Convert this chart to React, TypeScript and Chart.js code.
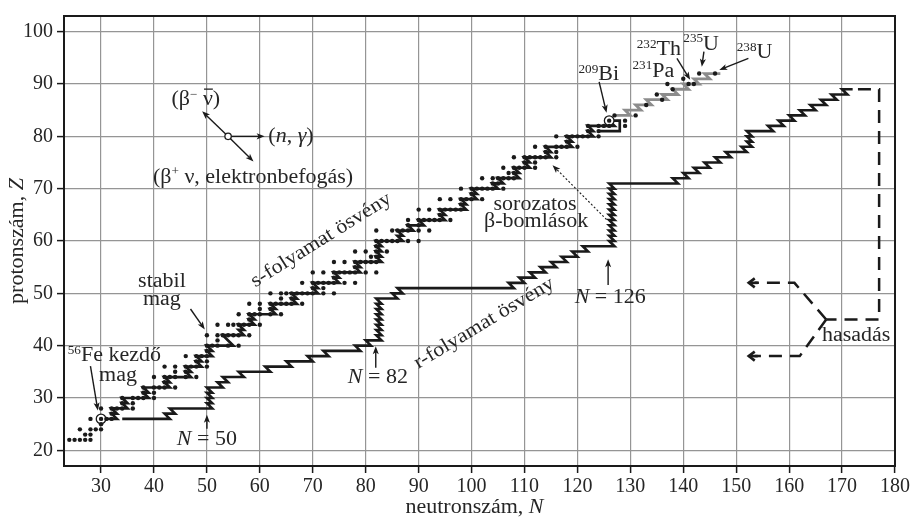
import React, { useEffect, useRef } from "react";
import { Chart, registerables } from "chart.js";
Chart.register(...registerables);

const FONT = '"Liberation Serif", "Times New Roman", serif';
const INK = "#1a1a1a";
const TEXT = "#262626";
const STRETCH = 1.1;

// ---------- axis ticks ----------
const xTickValues = [30, 40, 50, 60, 70, 80, 90, 100, 110, 120, 130, 140, 150, 160, 170, 180];
const yTickValues = [20, 30, 40, 50, 60, 70, 80, 90, 100];

// ---------- stable nuclei: [Z, list of N] ----------
const stableIsotopes: [number, number[]][] = [
  [22, [24, 25, 26, 27, 28]],
  [23, [27, 28]],
  [24, [26, 28, 29, 30]],
  [25, [30]],
  [26, [28, 30, 31, 32]],
  [27, [32]],
  [28, [30, 32, 33, 34, 36]],
  [29, [34, 36]],
  [30, [34, 36, 37, 38, 40]],
  [31, [38, 40]],
  [32, [38, 40, 41, 42, 44]],
  [33, [42]],
  [34, [40, 42, 43, 44, 46, 48]],
  [35, [44, 46]],
  [36, [42, 44, 46, 47, 48, 50]],
  [37, [48, 50]],
  [38, [46, 48, 49, 50]],
  [39, [50]],
  [40, [50, 51, 52, 54, 56]],
  [41, [52]],
  [42, [50, 52, 53, 54, 55, 56, 58]],
  [44, [52, 54, 55, 56, 57, 58, 60]],
  [45, [58]],
  [46, [56, 58, 59, 60, 62, 64]],
  [47, [60, 62]],
  [48, [58, 60, 62, 63, 64, 65, 66, 68]],
  [49, [64, 66]],
  [50, [62, 64, 65, 66, 67, 68, 69, 70, 72, 74]],
  [51, [70, 72]],
  [52, [68, 70, 71, 72, 73, 74, 76, 78]],
  [53, [74]],
  [54, [70, 72, 74, 75, 76, 77, 78, 80, 82]],
  [55, [78]],
  [56, [74, 76, 78, 79, 80, 81, 82]],
  [57, [81, 82]],
  [58, [78, 80, 82, 84]],
  [59, [82]],
  [60, [82, 83, 84, 85, 86, 88, 90]],
  [62, [82, 85, 86, 87, 88, 90, 92]],
  [63, [88, 90]],
  [64, [88, 90, 91, 92, 93, 94, 96]],
  [65, [94]],
  [66, [90, 92, 94, 95, 96, 97, 98]],
  [67, [98]],
  [68, [94, 96, 98, 99, 100, 102]],
  [69, [100]],
  [70, [98, 100, 101, 102, 103, 104, 106]],
  [71, [104, 105]],
  [72, [102, 104, 105, 106, 107, 108]],
  [73, [107, 108]],
  [74, [106, 108, 109, 110, 112]],
  [75, [110, 112]],
  [76, [108, 110, 111, 112, 113, 114, 116]],
  [77, [114, 116]],
  [78, [112, 114, 116, 117, 118, 120]],
  [79, [118]],
  [80, [116, 118, 119, 120, 121, 122, 124]],
  [81, [122, 124]],
  [82, [122, 124, 125, 126]],
  [83, [126]],
];

// heavy nuclei beyond Bi: [N, Z]
const heavyNuclides: [number, number][] = [
  [127, 84], [129, 83], [129, 82], [131, 84], [133, 86], [135, 88], [136, 87],
  [137, 90], [138, 89], [140, 91], [141, 90], [142, 90], [143, 92], [146, 92],
];

// circled nuclei (56Fe, 209Bi): [N, Z]
const markedNuclides: [number, number][] = [[30, 26], [126, 83]];

// s-process path: [Z, N from, N to]
const sPathSegments: [number, number, number][] = [
  [26, 30, 33], [27, 32, 33], [28, 32, 35], [29, 34, 35], [30, 34, 39], [31, 38, 39],
  [32, 38, 43], [33, 42, 43], [34, 42, 47], [35, 46, 47], [36, 46, 49], [37, 48, 49],
  [38, 48, 51], [39, 50, 51], [40, 50, 55], [41, 54, 54], [42, 53, 57], [43, 56, 57],
  [44, 56, 59], [45, 58, 59], [46, 58, 63], [47, 62, 63], [48, 62, 67], [49, 66, 67],
  [50, 66, 71], [51, 70, 71], [52, 70, 75], [53, 74, 75], [54, 74, 79], [55, 78, 79],
  [56, 78, 83], [57, 82, 83], [58, 82, 83], [59, 82, 83], [60, 82, 87], [61, 86, 87],
  [62, 86, 89], [63, 88, 91], [64, 90, 95], [65, 94, 95], [66, 94, 99], [67, 98, 99],
  [68, 98, 101], [69, 100, 101], [70, 100, 105], [71, 104, 106], [72, 105, 109], [73, 108, 109],
  [74, 108, 111], [75, 110, 111], [76, 110, 115], [77, 114, 115], [78, 114, 119], [79, 118, 119],
  [80, 118, 123], [81, 122, 123], [82, 122, 127], [83, 126, 126],
];
// Bi-Pb end cycle: [N, Z]
const sPathLoop: [number, number][] = [[128, 83], [128, 81], [124, 81]];

// r-process path: [N, Z]
const rPath: [number, number][] = [
  [34, 26], [43, 26], [42, 27], [44, 27], [43, 28], [51, 28],
  [50, 29], [51, 29], [50, 30], [51, 30], [50, 31], [51, 31], [50, 32], [53, 32], [52, 33], [54, 33],
  [53, 34], [57, 34], [56, 35], [62, 35], [61, 36], [66, 36], [65, 37], [70, 37], [69, 38], [73, 38],
  [72, 39], [79, 39], [78, 40], [81, 40], [80, 41], [83, 41],
  [82, 42], [83, 42], [82, 43], [83, 43], [82, 44], [83, 44], [82, 45], [83, 45], [82, 46], [83, 46],
  [82, 47], [83, 47], [82, 48], [83, 48], [82, 49],
  [86, 49], [85, 50], [87, 50], [86, 51], [108, 51], [107, 52], [110, 52], [109, 53], [112, 53],
  [111, 54], [114, 54], [113, 55], [116, 55], [115, 56], [118, 56], [117, 57], [120, 57], [119, 58],
  [122, 58], [121, 59], [127, 59],
  [126, 60], [127, 60], [126, 61], [127, 61], [126, 62], [127, 62], [126, 63], [127, 63], [126, 64],
  [127, 64], [126, 65], [127, 65], [126, 66], [127, 66], [126, 67], [127, 67], [126, 68], [127, 68],
  [126, 69], [127, 69], [126, 70], [127, 70], [126, 71],
  [139, 71], [138, 72], [141, 72], [140, 73], [143, 73], [142, 74], [145, 74], [144, 75], [147, 75],
  [146, 76], [149, 76], [148, 77], [152, 77], [151, 78], [153, 78],
  [152, 79], [153, 79], [152, 80], [153, 80], [152, 81],
  [157, 81], [156, 82], [159, 82], [158, 83], [161, 83], [160, 84], [163, 84], [162, 85], [165, 85],
  [164, 86], [167, 86], [166, 87], [169, 87], [168, 88], [171, 88], [170, 89], [172, 89],
];

// grey path beyond Bi: [N, Z]
const heavyPath: [number, number][] = [
  [127, 84], [130, 84], [129, 85], [132, 85], [131, 86], [134, 86], [133, 87], [137, 87], [136, 88],
  [139, 88], [138, 89], [141, 89], [140, 90], [143, 90], [142, 91], [145, 91], [144, 92], [147, 92],
];

// fission (dashed): [N, Z]
const fissionPath: [number, number][] = [[173, 89], [177, 89], [177, 45], [167, 45]];
const fissionUpper: [number, number][] = [[167, 45], [161, 52], [153.5, 52]];
const fissionLower: [number, number][] = [[167, 45], [162, 38], [153.5, 38]];

// ---------- annotations (data units) ----------
type Part = { t: string; it?: boolean; sup?: boolean; over?: boolean };
type Label = { n: number; z: number; parts: Part[]; align: "left" | "center"; rot?: number };

const labels: Label[] = [
  { n: 43.3, z: 85.9, align: "left", parts: [{ t: "(β" }, { t: "−", sup: true }, { t: " " }, { t: "ν", over: true }, { t: ")" }] },
  { n: 61.6, z: 78.9, align: "left", parts: [{ t: "(" }, { t: "n", it: true }, { t: ", " }, { t: "γ", it: true }, { t: ")" }] },
  { n: 39.8, z: 71.1, align: "left", parts: [{ t: "(β" }, { t: "+", sup: true }, { t: " ν, elektronbefogás)" }] },
  { n: 41.5, z: 51.2, align: "center", parts: [{ t: "stabil" }] },
  { n: 41.5, z: 47.8, align: "center", parts: [{ t: "mag" }] },
  { n: 23.7, z: 37.0, align: "left", parts: [{ t: "56", sup: true }, { t: "Fe kezdő" }] },
  { n: 33.2, z: 33.2, align: "center", parts: [{ t: "mag" }] },
  { n: 50.0, z: 21.0, align: "center", parts: [{ t: "N", it: true }, { t: " = 50" }] },
  { n: 82.3, z: 32.9, align: "center", parts: [{ t: "N", it: true }, { t: " = 82" }] },
  { n: 126.2, z: 48.2, align: "center", parts: [{ t: "N", it: true }, { t: " = 126" }] },
  { n: 112.0, z: 66.0, align: "center", parts: [{ t: "sorozatos" }] },
  { n: 112.2, z: 62.6, align: "center", parts: [{ t: "β-bomlások" }] },
  { n: 120.2, z: 90.7, align: "left", parts: [{ t: "209", sup: true }, { t: "Bi" }] },
  { n: 131.2, z: 95.5, align: "left", parts: [{ t: "232", sup: true }, { t: "Th" }] },
  { n: 140.0, z: 96.5, align: "left", parts: [{ t: "235", sup: true }, { t: "U" }] },
  { n: 130.4, z: 91.4, align: "left", parts: [{ t: "231", sup: true }, { t: "Pa" }] },
  { n: 150.1, z: 94.9, align: "left", parts: [{ t: "238", sup: true }, { t: "U" }] },
  { n: 166.2, z: 40.9, align: "left", parts: [{ t: "hasadás" }] },
  { n: 71.5, z: 60.3, align: "center", rot: -32, parts: [{ t: "s-folyamat ösvény" }] },
  { n: 102.3, z: 44.4, align: "center", rot: -31, parts: [{ t: "r-folyamat ösvény" }] },
];

type Arrow = { from: [number, number]; to: [number, number]; dotted?: boolean };
const arrows: Arrow[] = [
  { from: [54, 80], to: [49.1, 84.8] },
  { from: [54, 80], to: [60.9, 80] },
  { from: [54, 80], to: [58.8, 75.2] },
  { from: [46.9, 47.0], to: [49.6, 43.1] },
  { from: [28.0, 36.1], to: [29.4, 27.6] },
  { from: [50, 24.1], to: [50, 26.8] },
  { from: [81.9, 35.8], to: [81.9, 39.9] },
  { from: [125.8, 51.6], to: [125.8, 56.5] },
  { from: [124.1, 90.4], to: [125.5, 84.5] },
  { from: [138.8, 94.9], to: [141.3, 90.8] },
  { from: [143.9, 96.2], to: [143.5, 93.3] },
  { from: [152.3, 94.9], to: [146.8, 92.7] },
  { from: [125.5, 64.1], to: [115.3, 74.5], dotted: true },
];
const reactionCenter: [number, number] = [54, 80];

// ---------- helpers ----------
const pts = (a: [number, number][]) => a.map(([n, z]) => ({ x: n, y: z }));

function drawRich(ctx: CanvasRenderingContext2D, parts: Part[], x: number, y: number, align: "left" | "center", size: number) {
  const fonts = parts.map((p) => `${p.it ? "italic " : ""}${p.sup ? Math.round(size * 0.62) : size}px ${FONT}`);
  const widths = parts.map((p, i) => {
    ctx.font = fonts[i];
    return ctx.measureText(p.t).width;
  });
  const total = widths.reduce((a, b) => a + b, 0) * STRETCH;
  const x0 = align === "center" ? x - total / 2 : x;
  ctx.save();
  ctx.translate(x0, y);
  ctx.scale(STRETCH, 1);
  ctx.textBaseline = "alphabetic";
  ctx.textAlign = "left";
  ctx.fillStyle = TEXT;
  let cx = 0;
  parts.forEach((p, i) => {
    ctx.font = fonts[i];
    ctx.fillText(p.t, cx, p.sup ? -size * 0.38 : 0);
    if (p.over) ctx.fillRect(cx + 1, -size * 0.85, widths[i] - 1, 1.3);
    cx += widths[i];
  });
  ctx.restore();
}

function drawArrow(ctx: CanvasRenderingContext2D, x1: number, y1: number, x2: number, y2: number, dotted = false, head = 8, lw = 1.4) {
  const a = Math.atan2(y2 - y1, x2 - x1);
  const c = Math.cos(a), s = Math.sin(a);
  ctx.save();
  ctx.strokeStyle = INK;
  ctx.fillStyle = INK;
  ctx.lineWidth = dotted ? 1.1 : lw;
  if (dotted) ctx.setLineDash([2, 2]);
  ctx.beginPath();
  ctx.moveTo(x1, y1);
  ctx.lineTo(x2 - c * head * 0.7, y2 - s * head * 0.7);
  ctx.stroke();
  ctx.setLineDash([]);
  const hw = head * 0.38;
  ctx.beginPath();
  ctx.moveTo(x2, y2);
  ctx.lineTo(x2 - c * head - s * hw, y2 - s * head + c * hw);
  ctx.lineTo(x2 - c * head * 0.75, y2 - s * head * 0.75);
  ctx.lineTo(x2 - c * head + s * hw, y2 - s * head - c * hw);
  ctx.closePath();
  ctx.fill();
  ctx.restore();
}

const annotationPlugin = {
  id: "annotations",
  afterDatasetsDraw(chart: any) {
    const { ctx, scales } = chart;
    const X = (n: number) => scales.x.getPixelForValue(n);
    const Y = (z: number) => scales.y.getPixelForValue(z);
    arrows.forEach((ar) => {
      let x1 = X(ar.from[0]), y1 = Y(ar.from[1]);
      const x2 = X(ar.to[0]), y2 = Y(ar.to[1]);
      if (ar.from[0] === reactionCenter[0] && ar.from[1] === reactionCenter[1]) {
        const a = Math.atan2(y2 - y1, x2 - x1);
        x1 += Math.cos(a) * 3;
        y1 += Math.sin(a) * 3;
      }
      drawArrow(ctx, x1, y1, x2, y2, !!ar.dotted);
    });
    [fissionUpper, fissionLower].forEach((p) => {
      const b = p[p.length - 1];
      const x2 = X(b[0]) - 6, y2 = Y(b[1]);
      ctx.save();
      ctx.strokeStyle = INK;
      ctx.lineWidth = 2.6;
      ctx.lineJoin = "miter";
      ctx.beginPath();
      ctx.moveTo(x2 + 6, y2 - 4.5);
      ctx.lineTo(x2, y2);
      ctx.lineTo(x2 + 6, y2 + 4.5);
      ctx.stroke();
      ctx.beginPath();
      ctx.moveTo(x2, y2);
      ctx.lineTo(x2 + 9, y2);
      ctx.stroke();
      ctx.restore();
    });
    ctx.save();
    ctx.beginPath();
    ctx.arc(X(reactionCenter[0]), Y(reactionCenter[1]), 3.2, 0, Math.PI * 2);
    ctx.fillStyle = "#fff";
    ctx.fill();
    ctx.lineWidth = 1.3;
    ctx.strokeStyle = INK;
    ctx.stroke();
    ctx.restore();
    labels.forEach((l) => {
      const x = X(l.n), y = Y(l.z);
      if (l.rot) {
        ctx.save();
        ctx.translate(x, y);
        ctx.rotate((l.rot * Math.PI) / 180);
        drawRich(ctx, l.parts, 0, 6, "center", 20);
        ctx.restore();
      } else {
        drawRich(ctx, l.parts, x, y, l.align, 20);
      }
    });
  },
  afterDraw(chart: any) {
    const { ctx, chartArea: ca } = chart;
    ctx.save();
    ctx.strokeStyle = INK;
    ctx.lineWidth = 2;
    ctx.strokeRect(ca.left, ca.top, ca.right - ca.left, ca.bottom - ca.top);
    ctx.restore();
    drawRich(ctx, [{ t: "neutronszám, " }, { t: "N", it: true }], (ca.left + ca.right) / 2 - 5, 513, "center", 20);
    ctx.save();
    ctx.translate(23, (ca.top + ca.bottom) / 2);
    ctx.rotate(-Math.PI / 2);
    drawRich(ctx, [{ t: "protonszám, " }, { t: "Z", it: true }], 0, 0, "center", 20);
    ctx.restore();
  },
};

function lineSet(label: string, data: { x: number; y: number }[], color: string, width: number, order: number, dash?: number[]) {
  return {
    label,
    data,
    showLine: true,
    borderColor: color,
    borderWidth: width,
    borderDash: dash || [],
    borderJoinStyle: "miter" as const,
    pointRadius: 0,
    pointHoverRadius: 0,
    tension: 0,
    fill: false,
    order,
  };
}

export default function App() {
  const ref = useRef<HTMLCanvasElement>(null);
  useEffect(() => {
    if (!ref.current) return;
    const stablePts = stableIsotopes.flatMap(([z, ns]) => ns.map((n) => ({ x: n, y: z })));
    const sPath = [
      ...sPathSegments.flatMap(([z, a, b]) => (a === b ? [{ x: a, y: z }] : [{ x: a, y: z }, { x: b, y: z }])),
      ...pts(sPathLoop),
    ];
    const tickFont = { family: FONT, size: 20 };
    const chart = new Chart(ref.current, {
      type: "scatter",
      data: {
        datasets: [
          {
            label: "stable",
            data: [...stablePts, ...pts(heavyNuclides)],
            pointRadius: 2.2,
            pointBackgroundColor: INK,
            pointBorderWidth: 0,
            order: 0,
          } as any,
          {
            label: "marked",
            data: pts(markedNuclides),
            pointRadius: 4.8,
            pointBackgroundColor: "#fff",
            pointBorderColor: INK,
            pointBorderWidth: 1.3,
            order: 1,
          } as any,
          lineSet("s-path", sPath, INK, 2.7, 3),
          lineSet("r-path", pts(rPath), INK, 2.6, 3),
          lineSet("heavy", pts(heavyPath), "#8c8c8c", 2.8, 2),
          lineSet("fission", pts(fissionPath), INK, 2.5, 3, [13, 8]),
          lineSet("fission-up", pts(fissionUpper), INK, 2.5, 3, [13, 8]),
          lineSet("fission-down", pts(fissionLower), INK, 2.5, 3, [13, 8]),
        ],
      },
      options: {
        animation: false,
        responsive: false,
        devicePixelRatio: 1,
        layout: { padding: { top: 11, right: 20, left: 0, bottom: 0 } },
        plugins: { legend: { display: false }, tooltip: { enabled: false }, title: { display: false } },
        events: [],
        scales: {
          x: {
            type: "linear",
            min: 23,
            max: 180,
            afterBuildTicks: (axis: any) => {
              axis.ticks = xTickValues.map((v) => ({ value: v }));
            },
            afterFit: (axis: any) => {
              axis.height = 52;
            },
            ticks: { font: tickFont, color: TEXT, padding: 2, maxRotation: 0, autoSkip: false },
            grid: { color: "#959595", lineWidth: 1.2, tickLength: 7, tickColor: INK, tickWidth: 1.5 },
            border: { display: true, color: INK, width: 2 },
          },
          y: {
            type: "linear",
            min: 17,
            max: 103,
            afterBuildTicks: (axis: any) => {
              axis.ticks = yTickValues.map((v) => ({ value: v }));
            },
            afterFit: (axis: any) => {
              axis.width = 64;
            },
            ticks: { font: tickFont, color: TEXT, padding: 4, autoSkip: false },
            grid: { color: "#959595", lineWidth: 1.2, tickLength: 7, tickColor: INK, tickWidth: 1.5 },
            border: { display: true, color: INK, width: 2 },
          },
        },
      } as any,
      plugins: [annotationPlugin],
    });
    return () => chart.destroy();
  }, []);
  return (
    <div style={{ position: "fixed", left: 0, top: 0, width: 915, height: 518, background: "#fff" }}>
      <canvas ref={ref} width={915} height={518} style={{ display: "block", width: 915, height: 518 }} />
    </div>
  );
}
